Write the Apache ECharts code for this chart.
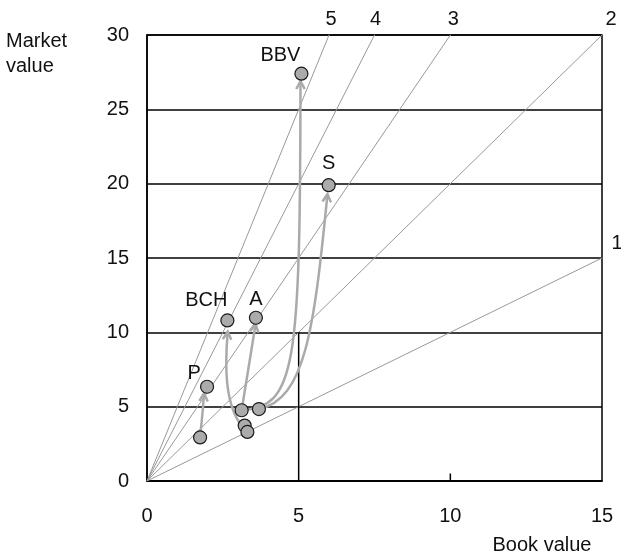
<!DOCTYPE html>
<html>
<head>
<meta charset="utf-8">
<script src="https://cdn.jsdelivr.net/npm/echarts@6/dist/echarts.min.js"></script>
<style>html,body{margin:0;padding:0;background:#fff}#chart{width:621px;height:557px}</style>
</head>
<body>
<div id="chart"></div>
<script>
// ---- data ----
const bookValue   = [5.09, 5.99, 2.65, 3.59, 1.98, 1.75, 3.12, 3.69, 3.22, 3.31];
const marketValue = [27.4, 19.9, 10.8, 10.98, 6.34, 2.93, 4.76, 4.84, 3.73, 3.30];
const pointNames  = ['BBV', 'S', 'BCH', 'A', 'P', '', '', '', '', ''];
const ratios      = [1, 2, 3, 4, 5];
const xTicks      = [0, 5, 10, 15];
const yTicks      = [0, 5, 10, 15, 20, 25, 30];
// arrow paths: start, control 1, control 2, end (data coordinates)
const arrowBBV = [[3.12, 4.76], [4.9, 5.0], [5.05, 7.5], [5.06, 26.9]];
const arrowS   = [[3.69, 4.84], [5.2, 5.5], [5.5, 10.0], [5.95, 19.3]];
const arrowBCH = [[3.31, 3.30], [2.45, 4.8], [2.6, 8.5], [2.66, 10.05]];
const arrowA   = [[3.12, 4.76], [3.3, 7.0], [3.45, 9.0], [3.58, 10.55]];
const arrowP   = [[1.75, 2.93], [1.8, 3.9], [1.85, 4.9], [1.88, 5.9]];
const arrows = [arrowBBV, arrowS, arrowBCH, arrowA, arrowP];
const refLineX5  = [[5, 0], [5, 10]];
const refTickX10 = [[10, 0], [10, 0.5]];

// ---- styles ----
const FONT = '"Liberation Sans", Arial, Helvetica, sans-serif';
const FS = 20;
const labelOffsets = {BBV: [-21, -18], S: [0, -22], BCH: [-21, -20], A: [0, -18], P: [-13, -13]};
const ratioLabelOffsets = {1: [15, -15], 2: [9, -16], 3: [3, -16], 4: [1, -16], 5: [2, -16]};
const xMin = 0, xMax = 15, yMin = 0, yMax = 30;

const ratioEnds = ratios.map(k => [Math.min(xMax, yMax / k), Math.min(yMax, xMax * k)]);
const ratioSeries = ratios.map((k, i) => ({
  type: 'line', silent: true, symbol: 'none', z: 2,
  lineStyle: {color: '#999', width: 1},
  data: [[0, 0], ratioEnds[i]]
}));

const chart = echarts.init(document.getElementById('chart'), null, {renderer: 'canvas'});
chart.setOption({
  animation: false,
  backgroundColor: '#fff',
  grid: {left: 147, right: 19, top: 35, bottom: 76, show: true, borderColor: '#000', borderWidth: 1.5, backgroundColor: 'transparent'},
  xAxis: {
    type: 'value', min: xMin, max: xMax, interval: 5,
    axisLine: {show: true, lineStyle: {color: '#000', width: 1.5}},
    axisTick: {show: false}, splitLine: {show: false},
    axisLabel: {margin: 25, color: '#111', fontSize: FS, fontFamily: FONT,
      formatter: v => xTicks.includes(v) ? String(v) : ''}
  },
  yAxis: {
    type: 'value', min: yMin, max: yMax, interval: 5,
    axisLine: {show: true, lineStyle: {color: '#000', width: 1.5}},
    axisTick: {show: false},
    splitLine: {show: true, lineStyle: {color: '#000', width: 1.5}},
    axisLabel: {margin: 18, color: '#111', fontSize: FS, fontFamily: FONT,
      formatter: v => yTicks.includes(v) ? String(v) : ''}
  },
  graphic: [
    {type: 'text', left: 6, top: 29, style: {text: 'Market\nvalue', fontSize: FS, lineHeight: 25, fontFamily: FONT, fill: '#111'}},
    {type: 'text', x: 542, y: 545, style: {text: 'Book value', fontSize: FS, fontFamily: FONT, fill: '#111', align: 'center', verticalAlign: 'middle'}}
  ],
  series: [
    ...ratioSeries,
    {
      type: 'scatter', silent: true, z: 6, symbolSize: 1, clip: false,
      itemStyle: {color: '#999', borderWidth: 0, opacity: 1},
      data: ratios.map((k, i) => ({
        value: ratioEnds[i],
        label: {show: true, position: 'inside', formatter: String(k), offset: ratioLabelOffsets[k],
                color: '#111', opacity: 1, textBorderWidth: 0, fontSize: FS, fontFamily: FONT}
      }))
    },
    {type: 'line', silent: true, symbol: 'none', z: 3, lineStyle: {color: '#000', width: 1.5}, data: refLineX5},
    {type: 'line', silent: true, symbol: 'none', z: 3, lineStyle: {color: '#000', width: 1.5}, data: refTickX10},
    {
      type: 'custom', z: 4, silent: true,
      data: arrows.map(a => a[0]),
      renderItem: (params, api) => {
        const p = arrows[params.dataIndex].map(pt => api.coord(pt));
        const [p0, c1, c2, p3] = p;
        let dx = p3[0] - c2[0], dy = p3[1] - c2[1];
        const len = Math.hypot(dx, dy) || 1; dx /= len; dy /= len;
        const L = 9, ang = 28 * Math.PI / 180;
        const rot = (a) => [p3[0] - L * (dx * Math.cos(a) - dy * Math.sin(a)), p3[1] - L * (dx * Math.sin(a) + dy * Math.cos(a))];
        const color = '#aaaaaa';
        return {
          type: 'group',
          children: [
            {type: 'bezierCurve', shape: {x1: p0[0], y1: p0[1], cpx1: c1[0], cpy1: c1[1], cpx2: c2[0], cpy2: c2[1], x2: p3[0], y2: p3[1]},
             style: {stroke: color, lineWidth: 2.5, fill: null}},
            {type: 'polyline', shape: {points: [rot(ang), p3, rot(-ang)]},
             style: {stroke: color, lineWidth: 2.5, fill: null, lineJoin: 'miter'}}
          ]
        };
      }
    },
    {
      type: 'scatter', z: 5, silent: true, symbolSize: 13,
      itemStyle: {color: '#ababab', borderColor: '#1a1a1a', borderWidth: 1.2, opacity: 1},
      data: bookValue.map((x, i) => ({
        value: [x, marketValue[i]], name: pointNames[i],
        label: {show: !!pointNames[i], position: 'inside', formatter: pointNames[i],
                offset: labelOffsets[pointNames[i]] || [0, 0], color: '#111', fontSize: FS, fontFamily: FONT}
      }))
    }
  ]
});
</script>
</body>
</html>
